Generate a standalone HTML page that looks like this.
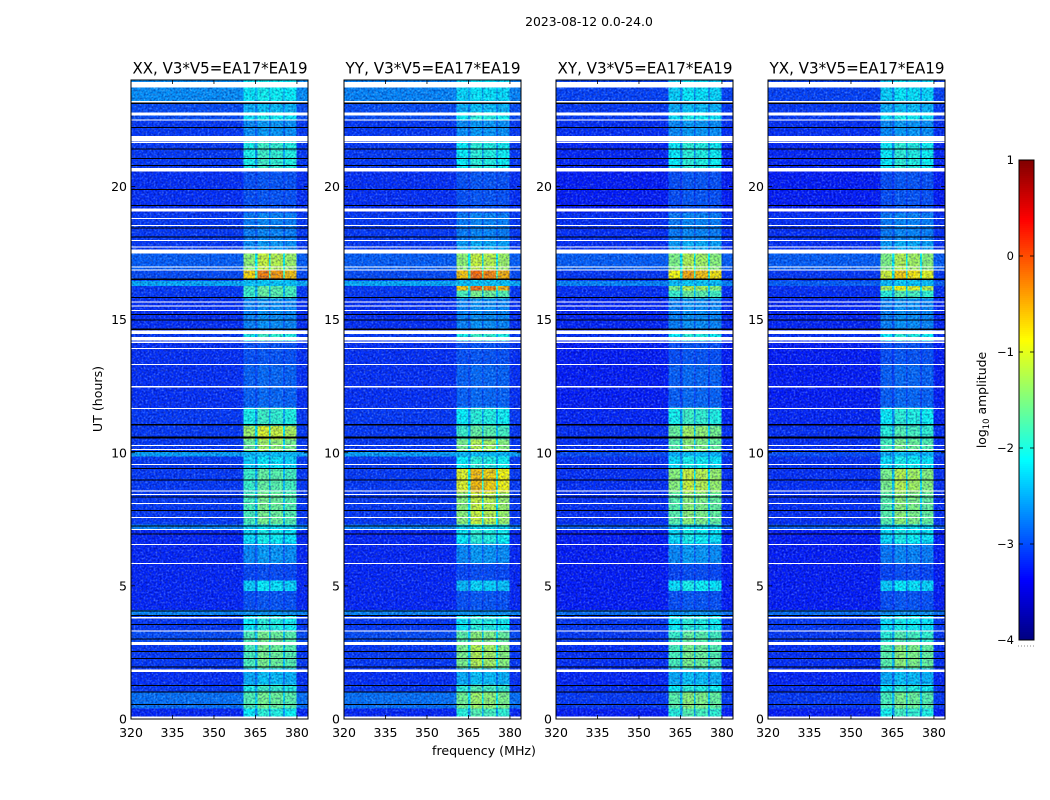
<!DOCTYPE html>
<html>
<head>
<meta charset="utf-8">
<title>2023-08-12 0.0-24.0</title>
<style>
html,body{margin:0;padding:0;background:#fff;}
svg{display:block;}
text{font-family:"DejaVu Sans","Liberation Sans",sans-serif;fill:#000;}
</style>
</head>
<body>
<svg id="figure" width="1050" height="800" viewBox="0 0 1050 800" xmlns="http://www.w3.org/2000/svg">
<defs>
<filter id="speckleLight" x="0" y="0" width="1" height="1" color-interpolation-filters="sRGB">
<feTurbulence type="fractalNoise" baseFrequency="0.5" numOctaves="2" seed="4"/>
<feColorMatrix type="matrix" values="0 0 0 0 0.7  0 0 0 0 0.9  0 0 0 0 1  2.4 0 0 0 -1.05"/>
</filter>
<filter id="speckleDark" x="0" y="0" width="1" height="1" color-interpolation-filters="sRGB">
<feTurbulence type="fractalNoise" baseFrequency="0.5" numOctaves="2" seed="11"/>
<feColorMatrix type="matrix" values="0 0 0 0 0  0 0 0 0 0  0 0 0 0 0.4  2.8 0 0 0 -1.1"/>
</filter>
</defs>
<text x="589" y="26" font-size="12.4" text-anchor="middle">2023-08-12 0.0-24.0</text>
<g id="panels"></g>
<text transform="translate(102,399) rotate(-90)" font-size="12.6" text-anchor="middle">UT (hours)</text>
<text x="484" y="755" font-size="12.6" text-anchor="middle">frequency (MHz)</text>
<g id="colorbar"></g>
<text transform="translate(986,400) rotate(-90)" font-size="12.4" text-anchor="middle">log<tspan font-size="8.5" dy="3">10</tspan><tspan dy="-3"> amplitude</tspan></text>
</svg>
<script>
// Time segments (UT hours), shared by every polarisation
const segEdges = [0,0.4,1.0,1.3,1.9,2.9,3.3,3.9,4.1,4.8,5.2,5.85,6.6,7.1,7.3,8.5,9.4,9.85,10.05,10.5,11,11.7,13.3,14.2,14.6,15.8,16.1,16.26,16.45,16.55,16.85,17.5,18,19,20.7,21.7,22.5,22.8,23.2,23.72,24];

// log10 amplitude outside (Bg) and inside (Hot) the 360-380 MHz bands, one per segment
const xxBg  = [-3.2,-2.8,-3.1,-3.15,-3.1,-3.0,-3.1,-2.7,-3.2,-3.2,-3.2,-3.2,-3.2,-2.7,-3.1,-3.1,-3.1,-2.55,-3.1,-3.1,-3.1,-3.15,-3.15,-3.1,-3.15,-3.1,-3.1,-2.5,-3.0,-3.0,-2.9,-3.1,-3.1,-3.15,-3.1,-3.1,-3.0,-3.0,-2.65,-2.65];
const xxHot = [-2.0,-1.6,-1.9,-2.4,-1.6,-1.6,-2.0,-2.6,-2.95,-2.2,-3.0,-2.6,-2.1,-2.2,-1.6,-1.7,-2.2,-2.4,-1.4,-1.1,-1.9,-2.85,-2.95,-1.9,-2.65,-1.7,-1.7,-2.35,-2.3,-0.4,-1.2,-2.6,-2.7,-2.95,-1.9,-2.6,-2.1,-2.4,-2.1,-2.1];
const yyBg  = [-3.2,-2.8,-3.1,-3.15,-3.1,-3.0,-3.1,-2.7,-3.2,-3.2,-3.2,-3.2,-3.2,-2.7,-3.1,-3.1,-3.1,-2.55,-3.1,-3.1,-3.1,-3.15,-3.15,-3.1,-3.15,-3.1,-3.1,-2.5,-3.0,-3.0,-2.9,-3.1,-3.1,-3.15,-3.1,-3.1,-3.0,-3.0,-2.7,-2.7];
const yyHot = [-1.8,-1.4,-1.8,-2.4,-1.3,-1.5,-2.0,-2.6,-2.95,-2.3,-3.0,-2.6,-2.0,-2.2,-1.2,-0.7,-2.0,-2.4,-1.3,-1.7,-2.0,-2.85,-2.95,-1.9,-2.65,-1.6,-0.3,-2.35,-2.3,-0.3,-1.2,-2.5,-2.7,-2.95,-2.0,-2.6,-2.0,-2.4,-2.2,-2.2];
const xyBg  = [-3.25,-3.1,-3.15,-3.2,-3.15,-3.1,-3.1,-2.8,-3.25,-3.25,-3.25,-3.25,-3.25,-2.9,-3.15,-3.15,-3.15,-3.0,-3.15,-3.15,-3.2,-3.25,-3.25,-3.15,-3.2,-3.15,-3.15,-2.7,-3.1,-3.1,-2.9,-3.15,-3.15,-3.25,-3.2,-3.15,-3.1,-3.1,-3.05,-3.05];
const xyHot = [-1.8,-1.5,-2.0,-2.4,-1.6,-1.7,-2.0,-2.6,-2.95,-2.1,-3.0,-2.6,-2.1,-2.2,-1.5,-1.2,-2.1,-2.4,-1.5,-1.4,-1.9,-2.85,-2.95,-2.0,-2.65,-1.7,-1.3,-2.35,-2.3,-0.6,-1.3,-2.5,-2.7,-2.95,-2.0,-2.6,-2.1,-2.4,-2.2,-2.2];
const yxBg  = [-3.25,-3.1,-3.15,-3.2,-3.15,-3.1,-3.1,-2.8,-3.25,-3.25,-3.25,-3.25,-3.25,-2.9,-3.15,-3.15,-3.15,-3.0,-3.15,-3.15,-3.2,-3.25,-3.25,-3.15,-3.2,-3.15,-3.15,-2.9,-3.1,-3.1,-2.9,-3.15,-3.15,-3.25,-3.2,-3.15,-3.1,-3.1,-3.05,-3.05];
const yxHot = [-1.9,-1.6,-2.0,-2.4,-1.5,-1.8,-2.1,-2.6,-2.95,-2.2,-3.0,-2.7,-2.1,-2.2,-1.5,-1.3,-2.1,-2.4,-1.6,-1.8,-2.0,-2.85,-2.95,-2.0,-2.65,-1.8,-1.0,-2.35,-2.3,-0.8,-1.3,-2.5,-2.7,-2.95,-2.0,-2.6,-2.1,-2.4,-2.2,-2.2];

// Frequency columns (MHz) and how much of the band excess each column carries
const colEdges = [320,360.6,364.8,365.8,369.9,370.4,374.9,375.7,379.9,384];
const colMix   = [0,0.88,0.45,1.05,0.5,1,0.5,0.92,0];

// Flagged time ranges (UT hours): white = no data
const whiteStart = [0,1.77,2.78,3.28,3.78,5.82,6.54,7.10,7.55,8.07,8.42,8.54,9.54,10.10,10.25,11.64,12.46,13.30,13.90,14.13,14.22,14.46,15.33,15.49,15.64,16.85,16.95,17.49,17.70,17.95,18.52,18.78,19.06,20.56,21.63,21.69,22.48,22.66,23.15,23.72];
const whiteEnd   = [0.09,1.86,2.90,3.32,3.83,5.86,6.58,7.14,7.59,8.11,8.46,8.58,9.58,10.14,10.29,11.68,12.50,13.34,13.94,14.17,14.35,14.60,15.37,15.53,15.68,16.89,16.99,17.64,17.74,17.99,18.56,18.82,19.17,20.69,21.67,21.89,22.52,22.77,23.21,23.93];
// Dropped integrations drawn as black lines (UT hours)
const blackTimes = [0.55,1.02,1.26,1.96,2.28,2.54,3.00,3.55,3.88,4.06,6.94,7.25,7.84,8.34,8.98,9.41,10.04,10.56,10.59,11.04,11.07,14.62,14.65,14.98,15.19,15.83,16.50,16.53,18.10,18.44,19.29,19.89,20.79,21.05,21.41,22.21,23.11,23.14];

const panelTitles = ['XX, V3*V5=EA17*EA19','YY, V3*V5=EA17*EA19','XY, V3*V5=EA17*EA19','YX, V3*V5=EA17*EA19'];
const panelKeys = ['xx','yy','xy','yx'];
const panelBg = [xxBg,yyBg,xyBg,yxBg];
const panelHot = [xxHot,yyHot,xyHot,yxHot];
const freqTicks = [320,335,350,365,380];
const timeTicks = [0,5,10,15,20];
const cbarTicks = [1,0,-1,-2,-3,-4];
const cbarTickLabels = ['1','0','\u22121','\u22122','\u22123','\u22124'];

const NS = 'http://www.w3.org/2000/svg';
const panelLeft = [131,344,556,768];
const panelWidth = 177, plotTop = 80, plotBottom = 719;
const xScale = (left, f) => left + (f - 320) / (384 - 320) * panelWidth;
const yScale = t => plotBottom - t / 24 * (plotBottom - plotTop);

function jet(v){
  const t = Math.max(0, Math.min(1, (v + 4) / 5));
  const ramp = (a) => Math.round(255 * Math.max(0, Math.min(1, 1.5 - Math.abs(4 * t - a))));
  return 'rgb(' + ramp(3) + ',' + ramp(2) + ',' + ramp(1) + ')';
}
function svgEl(tag, attrs, parent){
  const el = document.createElementNS(NS, tag);
  for (const k in attrs) el.setAttribute(k, attrs[k]);
  parent.appendChild(el);
  return el;
}

const panelsRoot = document.getElementById('panels');
panelKeys.forEach((key, p) => {
  const left = panelLeft[p];
  const g = svgEl('g', {}, panelsRoot);
  
  
  const clip = svgEl('clipPath', {id: 'clip-' + key}, g);
  svgEl('rect', {x: left, y: plotTop, width: panelWidth, height: plotBottom - plotTop}, clip);
  const body = svgEl('g', {'clip-path': 'url(#clip-' + key + ')'}, g);

  segEdges.slice(0, -1).forEach((start, s) => {
    const end = segEdges[s + 1];
    colMix.forEach((mix, c) => {
      const level = panelBg[p][s] + mix * (panelHot[p][s] - panelBg[p][s]);
      const x0 = xScale(left, colEdges[c]), x1 = xScale(left, colEdges[c + 1]);
      const y0 = yScale(end), y1 = yScale(start);
      const cell = svgEl('rect', {x: x0, y: y0, width: x1 - x0, height: y1 - y0, fill: jet(level), 'shape-rendering': 'crispEdges'}, body);
      
      
    });
  });

  const light = svgEl('rect', {x: left, y: plotTop, width: panelWidth, height: plotBottom - plotTop, filter: 'url(#speckleLight)', opacity: 0.38}, body);
  
  
  const dark = svgEl('rect', {x: left, y: plotTop, width: panelWidth, height: plotBottom - plotTop, filter: 'url(#speckleDark)', opacity: 0.4}, body);
  
  

  whiteStart.forEach((start, i) => {
    const yTop = yScale(whiteEnd[i]), yBot = yScale(start);
    const flag = svgEl('rect', {x: left, y: yTop, width: panelWidth, height: yBot - yTop, fill: '#fff', 'shape-rendering': 'crispEdges'}, body);
    
    
  });
  blackTimes.forEach((t) => {
    const line = svgEl('line', {x1: left, x2: left + panelWidth, y1: yScale(t), y2: yScale(t), stroke: '#000', 'stroke-width': 1, 'shape-rendering': 'crispEdges'}, body);
    
    
  });

  freqTicks.forEach((f) => {
    const x = xScale(left, f);
    svgEl('line', {x1: x, x2: x, y1: plotTop, y2: plotTop + 4, stroke: '#000', 'stroke-width': 0.8}, g);
    svgEl('line', {x1: x, x2: x, y1: plotBottom, y2: plotBottom - 4, stroke: '#000', 'stroke-width': 0.8}, g);
    const lab = svgEl('text', {x: x, y: plotBottom + 18, 'font-size': 12.5, 'text-anchor': 'middle'}, g);
    
    
    lab.textContent = f;
  });
  timeTicks.forEach((t) => {
    const y = yScale(t);
    svgEl('line', {x1: left, x2: left + 4, y1: y, y2: y, stroke: '#000', 'stroke-width': 0.8}, g);
    svgEl('line', {x1: left + panelWidth, x2: left + panelWidth - 4, y1: y, y2: y, stroke: '#000', 'stroke-width': 0.8}, g);
    const lab = svgEl('text', {x: left - 4, y: y + 4.5, 'font-size': 12.5, 'text-anchor': 'end'}, g);
    
    
    lab.textContent = t;
  });

  const frame = svgEl('rect', {x: left, y: plotTop, width: panelWidth, height: plotBottom - plotTop, fill: 'none', stroke: '#000', 'stroke-width': 1}, g);
  
  
  const title = svgEl('text', {x: left + panelWidth / 2 + 0.5, y: plotTop - 6.5, 'font-size': 16, 'text-anchor': 'middle', textLength: 175, lengthAdjust: 'spacingAndGlyphs'}, g);
  
  
  title.textContent = panelTitles[p];
});

// Colour bar
const cbar = document.getElementById('colorbar');
const cbLeft = 1019, cbWidth = 15, cbTop = 160, cbBottom = 640;
const cbY = v => cbTop + (1 - v) / 5 * (cbBottom - cbTop);
for (let py = cbTop; py < cbBottom; py += 2) {
  const v = 1 - (py + 1 - cbTop) / (cbBottom - cbTop) * 5;
  svgEl('rect', {x: cbLeft, y: py, width: cbWidth, height: 2.2, fill: jet(v), 'shape-rendering': 'crispEdges'}, cbar);
}
svgEl('rect', {x: cbLeft, y: cbTop, width: cbWidth, height: cbBottom - cbTop, fill: 'none', stroke: '#000', 'stroke-width': 1}, cbar);
cbarTicks.forEach((v, i) => {
  const y = cbY(v);
  svgEl('line', {x1: cbLeft, x2: cbLeft + 4, y1: y, y2: y, stroke: '#000', 'stroke-width': 0.8}, cbar);
  svgEl('line', {x1: cbLeft + cbWidth, x2: cbLeft + cbWidth - 4, y1: y, y2: y, stroke: '#000', 'stroke-width': 0.8}, cbar);
  const lab = svgEl('text', {x: cbLeft - 5, y: y + 4, 'font-size': 11.5, 'text-anchor': 'end'}, cbar);
  
  
  lab.textContent = cbarTickLabels[i];
});
svgEl('line', {x1: cbLeft - 1, x2: cbLeft + cbWidth, y1: 646, y2: 646, stroke: '#888', 'stroke-width': 1, 'stroke-dasharray': '1 2'}, cbar);
</script>
</body>
</html>
